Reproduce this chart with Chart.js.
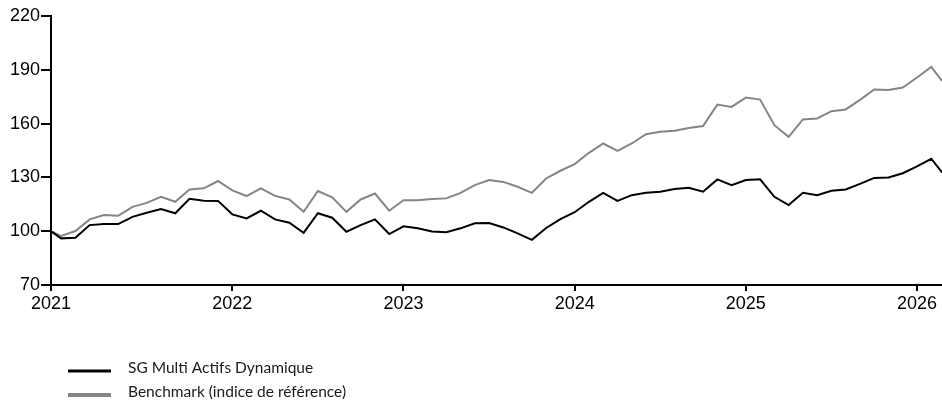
<!DOCTYPE html>
<html>
<head>
<meta charset="utf-8">
<script src="https://cdn.jsdelivr.net/npm/chart.js@4"></script>
<style>
  html, body { margin: 0; padding: 0; background: #fff; }
  #wrap { width: 942px; height: 401px; }
</style>
</head>
<body>
<div id="wrap"><canvas id="graficoPerf"></canvas></div>
<script>
// --- Données ---
const dates = [
  "2020-12-10",
  "2021-01-01", "2021-02-01", "2021-03-01", "2021-04-01", "2021-05-01", "2021-06-01",
  "2021-07-01", "2021-08-01", "2021-09-01", "2021-10-01", "2021-11-01", "2021-12-01",
  "2022-01-01", "2022-02-01", "2022-03-01", "2022-04-01", "2022-05-01", "2022-06-01",
  "2022-07-01", "2022-08-01", "2022-09-01", "2022-10-01", "2022-11-01", "2022-12-01",
  "2023-01-01", "2023-02-01", "2023-03-01", "2023-04-01", "2023-05-01", "2023-06-01",
  "2023-07-01", "2023-08-01", "2023-09-01", "2023-10-01", "2023-11-01", "2023-12-01",
  "2024-01-01", "2024-02-01", "2024-03-01", "2024-04-01", "2024-05-01", "2024-06-01",
  "2024-07-01", "2024-08-01", "2024-09-01", "2024-10-01", "2024-11-01", "2024-12-01",
  "2025-01-01", "2025-02-01", "2025-03-01", "2025-04-01", "2025-05-01", "2025-06-01",
  "2025-07-01", "2025-08-01", "2025-09-01", "2025-10-01", "2025-11-01", "2025-12-01",
  "2026-01-01", "2026-02-01", "2026-02-22"
];

const fonds = [
  100.0,
  96.0, 96.3, 103.4, 104.0, 104.0, 108.0, 110.3, 112.3, 110.0, 118.1, 117.0, 116.9,
  109.4, 107.1, 111.4, 106.6, 104.7, 99.1, 110.0, 107.5, 99.7, 103.4, 106.6, 98.4,
  102.7, 101.6, 99.8, 99.4, 101.6, 104.4, 104.6, 102.1, 98.8, 95.2, 101.8, 106.7,
  110.6, 116.4, 121.4, 116.9, 120.1, 121.4, 122.0, 123.5, 124.2, 122.0, 128.9, 125.7,
  128.5, 128.9, 119.2, 114.6, 121.4, 120.1, 122.5, 123.3, 126.4, 129.7, 129.9, 132.3,
  136.1, 140.4, 132.8
];

const benchmark = [
  100.0,
  97.3, 100.1, 106.6, 109.0, 108.6, 113.6, 115.8, 119.2, 116.4, 123.3, 123.9, 128.0,
  122.8, 119.6, 123.9, 119.7, 117.7, 110.8, 122.4, 118.9, 110.8, 117.7, 121.0, 111.4,
  117.3, 117.3, 117.9, 118.3, 121.4, 125.7, 128.5, 127.5, 124.8, 121.4, 129.4, 133.7,
  137.4, 143.7, 148.9, 144.8, 148.9, 154.1, 155.4, 156.0, 157.6, 158.6, 170.6, 169.3,
  174.5, 173.4, 159.1, 152.6, 162.3, 162.9, 166.9, 167.9, 173.2, 179.0, 178.8, 180.1,
  185.7, 191.6, 183.8
];

const annees = [2021, 2022, 2023, 2024, 2025, 2026];
const yTicks = [70, 100, 130, 160, 190, 220];

const series = [
  { label: "SG Multi Actifs Dynamique", data: fonds, color: "#000000", legendWidth: 3 },
  { label: "Benchmark (indice de référence)", data: benchmark, color: "#858585", legendWidth: 4 }
];

// date -> mois depuis janvier 2021 (fractionnaire)
function enMois(str) {
  const [a, m, j] = str.split("-").map(Number);
  const jours = new Date(a, m, 0).getDate();
  return (a - 2021) * 12 + (m - 1) + (j - 1) / jours;
}
const xs = dates.map(enMois);

// --- Légende dessinée sous le graphique ---
const legendePlugin = {
  id: "legendeBas",
  afterDraw(chart) {
    const ctx = chart.ctx;
    ctx.save();
    series.forEach((s, i) => {
      const y = 371 + i * 24;
      ctx.strokeStyle = s.color;
      ctx.lineWidth = s.legendWidth;
      ctx.beginPath();
      ctx.moveTo(68, y);
      ctx.lineTo(111, y);
      ctx.stroke();
      ctx.fillStyle = "#1a1a1a";
      ctx.font = "15.5px Lato";
      ctx.textBaseline = "middle";
      ctx.fillText(s.label, 128, y - 3);
    });
    ctx.restore();
  }
};

const tickFont = { family: "Liberation Sans", size: 18 };

new Chart(document.getElementById("graficoPerf"), {
  type: "line",
  data: {
    datasets: series.map(s => ({
      label: s.label,
      data: s.data.map((v, i) => ({ x: xs[i], y: v })),
      borderColor: s.color,
      borderWidth: 2,
      pointRadius: 0,
      tension: 0,
      fill: false
    }))
  },
  options: {
    responsive: true,
    maintainAspectRatio: false,
    animation: false,
    layout: { padding: { top: 16, right: 0, bottom: 86, left: 0 } },
    plugins: { legend: { display: false }, tooltip: { enabled: false } },
    scales: {
      x: {
        type: "linear",
        min: xs[0],
        max: xs[xs.length - 1],
        // la première année est posée au début de l'axe
        afterBuildTicks(axis) {
          axis.ticks = annees.map((a, i) => ({ value: i === 0 ? xs[0] : (a - 2021) * 12 }));
        },
        afterFit(axis) { axis.height = 30; },
        ticks: {
          color: "#000",
          font: tickFont,
          padding: 2,
          maxRotation: 0,
          autoSkip: false,
          callback: (v, i) => String(annees[i])
        },
        grid: { display: true, drawOnChartArea: false, drawTicks: true, tickLength: 6, color: "#000", lineWidth: 2 },
        border: { display: true, color: "#000", width: 2 }
      },
      y: {
        min: yTicks[0],
        max: yTicks[yTicks.length - 1],
        afterBuildTicks(axis) {
          axis.ticks = yTicks.map(v => ({ value: v }));
        },
        afterFit(axis) { axis.width = 51; },
        ticks: { color: "#000", font: tickFont, padding: 1 },
        grid: { display: true, drawOnChartArea: false, drawTicks: true, tickLength: 10, color: "#000", lineWidth: 2 },
        border: { display: true, color: "#000", width: 2 }
      }
    }
  },
  plugins: [legendePlugin]
});
</script>
</body>
</html>
